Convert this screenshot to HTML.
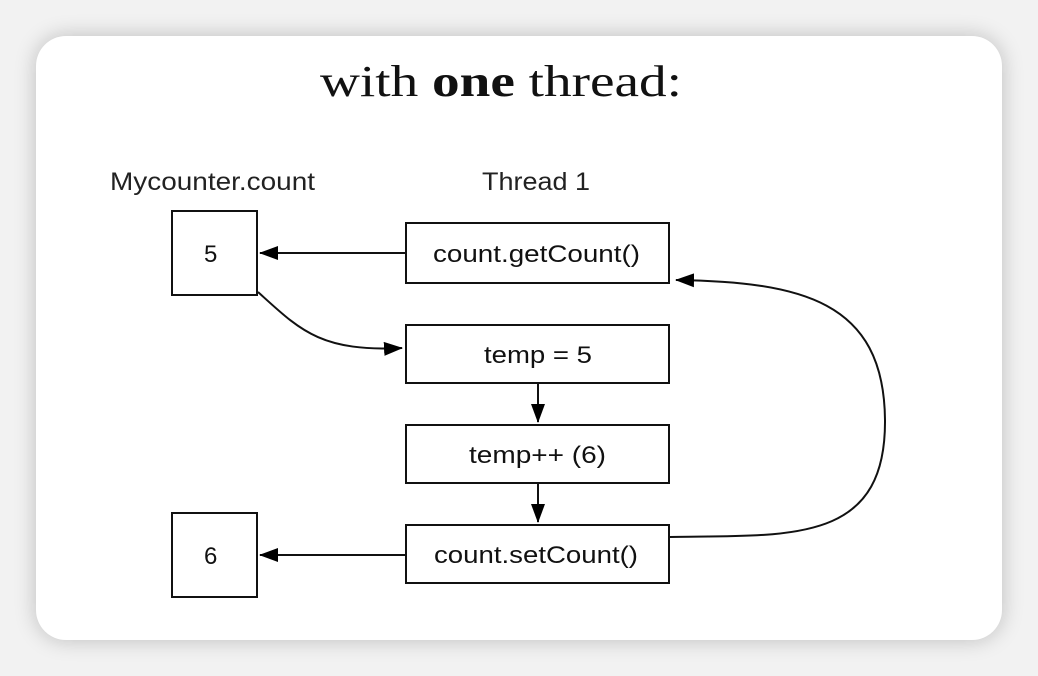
<!DOCTYPE html>
<html><head><meta charset="utf-8"><style>
html,body{margin:0;padding:0;background:#f2f2f2;width:1038px;height:676px;overflow:hidden}
.card{position:absolute;left:36px;top:36px;width:966px;height:604px;background:#fff;border-radius:30px;box-shadow:0 0 22px rgba(0,0,0,0.22)}
svg{position:absolute;left:0;top:0}
</style></head><body>
<div class="card"></div>
<svg width="1038" height="676" viewBox="0 0 1038 676">
<defs>
<marker id="b" markerWidth="20" markerHeight="14" refX="18" refY="7" orient="auto" markerUnits="userSpaceOnUse"><path d="M0,0 L19,7 L0,14 z" fill="#000"/></marker></defs>
<text x="320" y="96" font-family="Liberation Serif, serif" font-size="44" fill="#111" textLength="362" lengthAdjust="spacingAndGlyphs">with <tspan font-weight="bold">one</tspan> thread:</text>
<g font-family="Liberation Sans, Arial, sans-serif" font-size="25" fill="#222">
<text x="110" y="190" textLength="205" lengthAdjust="spacingAndGlyphs">Mycounter.count</text>
<text x="482" y="190" textLength="108" lengthAdjust="spacingAndGlyphs">Thread 1</text>
</g>
<g fill="#fff" stroke="#111" stroke-width="2">
<rect x="172" y="211" width="85" height="84"/>
<rect x="172" y="513" width="85" height="84"/>
<rect x="406" y="223" width="263" height="60"/>
<rect x="406" y="325" width="263" height="58"/>
<rect x="406" y="425" width="263" height="58"/>
<rect x="406" y="525" width="263" height="58"/>
</g>
<g font-family="Liberation Sans, Arial, sans-serif" font-size="24" fill="#111">
<text x="204" y="262">5</text>
<text x="204" y="564">6</text>
<text x="433" y="262" textLength="207" lengthAdjust="spacingAndGlyphs">count.getCount()</text>
<text x="484" y="363" textLength="108" lengthAdjust="spacingAndGlyphs">temp = 5</text>
<text x="469" y="463" textLength="137" lengthAdjust="spacingAndGlyphs">temp++ (6)</text>
<text x="434" y="563" textLength="204" lengthAdjust="spacingAndGlyphs">count.setCount()</text>
</g>
<g fill="none" stroke="#111" stroke-width="2">
<path d="M406,253 L260,253" marker-end="url(#b)"/>
<path d="M406,555 L260,555" marker-end="url(#b)"/>
<path d="M258,292 C300,330 320,352 402,348" marker-end="url(#b)"/>
<path d="M538,383 L538,422" marker-end="url(#b)"/>
<path d="M538,483 L538,522" marker-end="url(#b)"/>
<path d="M670,537 C790,535 886,545 885,420 C884,300 800,282 676,280" marker-end="url(#b)"/>
</g>
</svg>
</body></html>
